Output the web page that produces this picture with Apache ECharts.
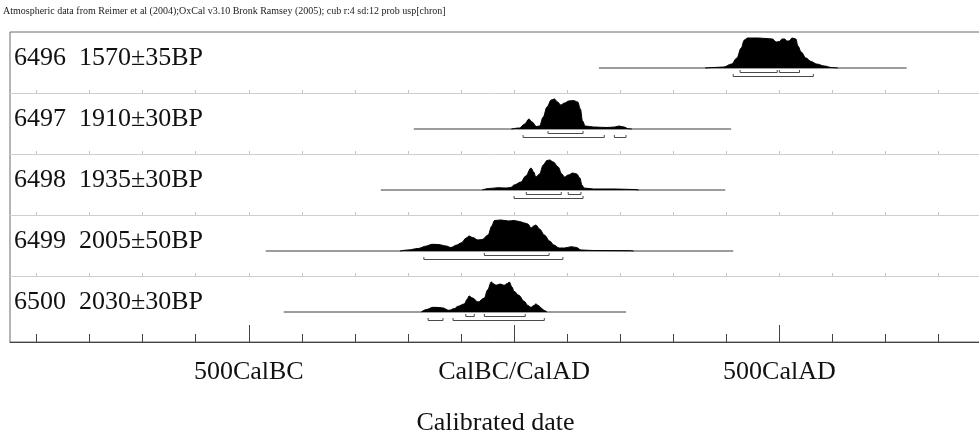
<!DOCTYPE html>
<html><head><meta charset="utf-8">
<script src="https://cdn.jsdelivr.net/npm/echarts@6/dist/echarts.min.js"></script>
<style>html,body{margin:0;padding:0;background:#fff}#c{width:979px;height:442px}</style>
</head><body><div id="c"></div>
<script>
// ---------------- data ----------------
const headerText = "Atmospheric data from Reimer et al (2004);OxCal v3.10 Bronk Ramsey (2005); cub r:4 sd:12 prob usp[chron]";
const sampleLabels = ["6496  1570\u00b135BP", "6497  1910\u00b130BP", "6498  1935\u00b130BP", "6499  2005\u00b150BP", "6500  2030\u00b130BP"];
const xMajorTicks = [-500, 0, 500];
const xMajorLabels = ["500CalBC", "CalBC/CalAD", "500CalAD"];
const xMinorTicks = [-900, -800, -700, -600, -500, -400, -300, -200, -100, 0, 100, 200, 300, 400, 500, 600, 700, 800];
const axisTitle = "Calibrated date";

// probability distributions: [calendar year, relative probability]
const dist6496 = [[360,0],[377,0.5],[395,1],[410,4],[420,10],[428,20],[434,28],[440,30],[460,30],[475,29.5],[487,29],[494,26],[500,26.5],[505,29],[510,29],[514,27],[518,27],[524,30],[531,29],[535,22],[541,16],[550,10],[560,6.5],[570,4],[585,2],[598,0.5],[610,0]];
const dist6497 = [[-5,0],[10,1],[20,5],[28,10],[34,7],[42,2.5],[48,3],[55,12],[62,22],[70,29],[76,30],[82,27],[88,24],[95,26],[103,28],[112,28.5],[120,27],[125,20],[129,8],[134,3],[150,2],[175,1.5],[190,2],[198,3],[207,2],[215,0.3],[222,0]];
const dist6498 = [[-60,0],[-47,1.5],[-30,2.3],[-15,2],[-6,2.5],[0,5],[13,8],[22,14],[32,22],[37,18],[41,13],[48,16],[55,25],[62,29.5],[67,30],[74,28],[83,23],[90,16],[95,13],[102,15],[111,17],[118,16],[124,12],[128,5],[132,2],[150,1],[190,1],[226,0.5],[235,0]];
const dist6499 = [[-215,0],[-200,1],[-181,2.5],[-165,5],[-155,6.7],[-143,6.5],[-128,5],[-119,3.5],[-108,6],[-100,8],[-90,13],[-85,15],[-78,13.5],[-68,11],[-60,11.5],[-49,16],[-42,25],[-37,30.5],[-25,31],[-10,30],[0,30.5],[10,29.5],[20,28],[26,27],[32,23],[37,25],[41,26],[48,22],[57,16],[67,10],[75,6],[85,3],[95,3],[108,4.3],[118,3.5],[126,1],[150,0.5],[217,0.3],[225,0]];
const dist6500 = [[-175,0],[-165,2.5],[-153,4.7],[-140,4.5],[-134,4],[-123,1.7],[-112,3.5],[-106,5.7],[-94,8],[-88,13],[-85,16],[-78,14],[-68,10],[-56,14],[-50,22],[-43,30],[-38,28],[-34,26.7],[-26,28],[-19,26.7],[-13,28.5],[-9,30],[-4,25],[0,20.7],[9,16.7],[19,10.7],[26,6.5],[32,4.7],[37,6.5],[41,8],[46,6.5],[51,4],[57,1.5],[62,0]];

// extent of the plotted calibration baseline
const span6496 = [160, 740];
const span6497 = [-189, 409];
const span6498 = [-251, 398];
const span6499 = [-468, 413];
const span6500 = [-434, 211];

// 68.2% and 95.4% ranges
const r68_6496 = [[426,496],[500,538]];
const r95_6496 = [[413,564]];
const r68_6497 = [[64,130]];
const r95_6497 = [[17,170],[189,211]];
const r68_6498 = [[23,89],[102,126]];
const r95_6498 = [[0,130]];
const r68_6499 = [[-56,66]];
const r95_6499 = [[-170,92]];
const r68_6500 = [[-91,-75],[-56,21]];
const r95_6500 = [[-162,-134],[-115,57]];

// ---------------- chart ----------------
const rows = [
  {dist: dist6496, span: span6496, r68: r68_6496, r95: r95_6496},
  {dist: dist6497, span: span6497, r68: r68_6497, r95: r95_6497},
  {dist: dist6498, span: span6498, r68: r68_6498, r95: r95_6498},
  {dist: dist6499, span: span6499, r68: r68_6499, r95: r95_6499},
  {dist: dist6500, span: span6500, r68: r68_6500, r95: r95_6500}
];
const XMIN = -950, XMAX = 880;
const ROW_TOP = 32, ROW_H = 61;
const SERIF = "'Liberation Serif','Times New Roman',serif";

const grid = [{left: 10, right: -2, top: ROW_TOP, bottom: 100, outerBoundsMode: 'none', containLabel: false,
  show: true, borderColor: '#6a6a6a', borderWidth: 1, backgroundColor: 'transparent'}];
const xAxis = [
  {gridIndex: 0, type: 'value', min: XMIN, max: XMAX,
   axisLine: {show: true, onZero: false, lineStyle: {color: '#444', width: 1}},
   axisTick: {show: true, customValues: xMinorTicks, inside: true, length: 8, lineStyle: {color: '#444'}},
   axisLabel: {show: true, customValues: xMajorTicks, formatter: v => xMajorLabels[xMajorTicks.indexOf(v)],
               fontFamily: SERIF, fontSize: 26, color: '#111', margin: 17},
   splitLine: {show: false},
   name: axisTitle, nameLocation: 'middle', nameGap: 68,
   nameTextStyle: {fontFamily: SERIF, fontSize: 26, color: '#111'}},
  {gridIndex: 0, type: 'value', min: XMIN, max: XMAX, position: 'bottom',
   axisLine: {show: false, onZero: false},
   axisTick: {show: true, customValues: xMajorTicks, inside: true, length: 17, lineStyle: {color: '#444'}},
   axisLabel: {show: false}, splitLine: {show: false}}
];
const yAxis = [{gridIndex: 0, type: 'value', show: false, min: 0, max: 1}];
const series = [];
const graphic = [{type: 'text', left: 3, top: 6, style: {text: headerText, font: "10px " + SERIF, fill: '#222'}}];

rows.forEach((r, i) => {
  const gi = i + 1;
  grid.push({left: 10, right: -2, top: ROW_TOP + ROW_H * i, height: ROW_H, outerBoundsMode: 'none', containLabel: false});
  const xi = xAxis.length;
  xAxis.push({gridIndex: gi, type: 'value', min: XMIN, max: XMAX, position: 'bottom',
    axisLine: {show: i < 4, onZero: false, lineStyle: {color: '#cfcfcf', width: 1}},
    axisTick: {show: i < 4, customValues: xMinorTicks, inside: true, length: 3, lineStyle: {color: '#c4c4c4'}},
    axisLabel: {show: false}, splitLine: {show: false}});
  const yi = yAxis.length;
  yAxis.push({gridIndex: gi, type: 'value', show: false, min: -25, max: 36});
  series.push({type: 'line', xAxisIndex: xi, yAxisIndex: yi, data: [[r.span[0], 0], [r.span[1], 0]],
    symbol: 'none', lineStyle: {color: '#3a3a3a', width: 1}, silent: true, z: 2});
  series.push({type: 'line', xAxisIndex: xi, yAxisIndex: yi, data: r.dist,
    symbol: 'none', smooth: 0.35, smoothMonotone: 'x',
    lineStyle: {color: '#000', width: 1}, areaStyle: {color: '#000', opacity: 1},
    silent: true, z: 3});
  const br = r.r68.map(d => [d[0], d[1], 68]).concat(r.r95.map(d => [d[0], d[1], 95]));
  series.push({type: 'custom', xAxisIndex: xi, yAxisIndex: yi, data: br, clip: false, silent: true, z: 4,
    encode: {x: [0, 1]},
    renderItem: (params, api) => {
      const s = api.coord([api.value(0), 0]);
      const e = api.coord([api.value(1), 0]);
      const y = Math.round(s[1] + (api.value(2) === 68 ? 4 : 8)) + 0.5;
      return {type: 'polyline', shape: {points: [[s[0], y - 2.5], [s[0], y], [e[0], y], [e[0], y - 2.5]]},
              style: {stroke: '#4a4a4a', lineWidth: 1, fill: null}};
    }});
  graphic.push({type: 'text', left: 14, top: ROW_TOP + ROW_H * i + 13,
    style: {text: sampleLabels[i], font: "26px " + SERIF, fill: '#111'}});
});

const chart = echarts.init(document.getElementById('c'), null, {renderer: 'canvas'});
chart.setOption({animation: false, backgroundColor: '#fff', grid, xAxis, yAxis, series, graphic});
</script>
</body></html>
